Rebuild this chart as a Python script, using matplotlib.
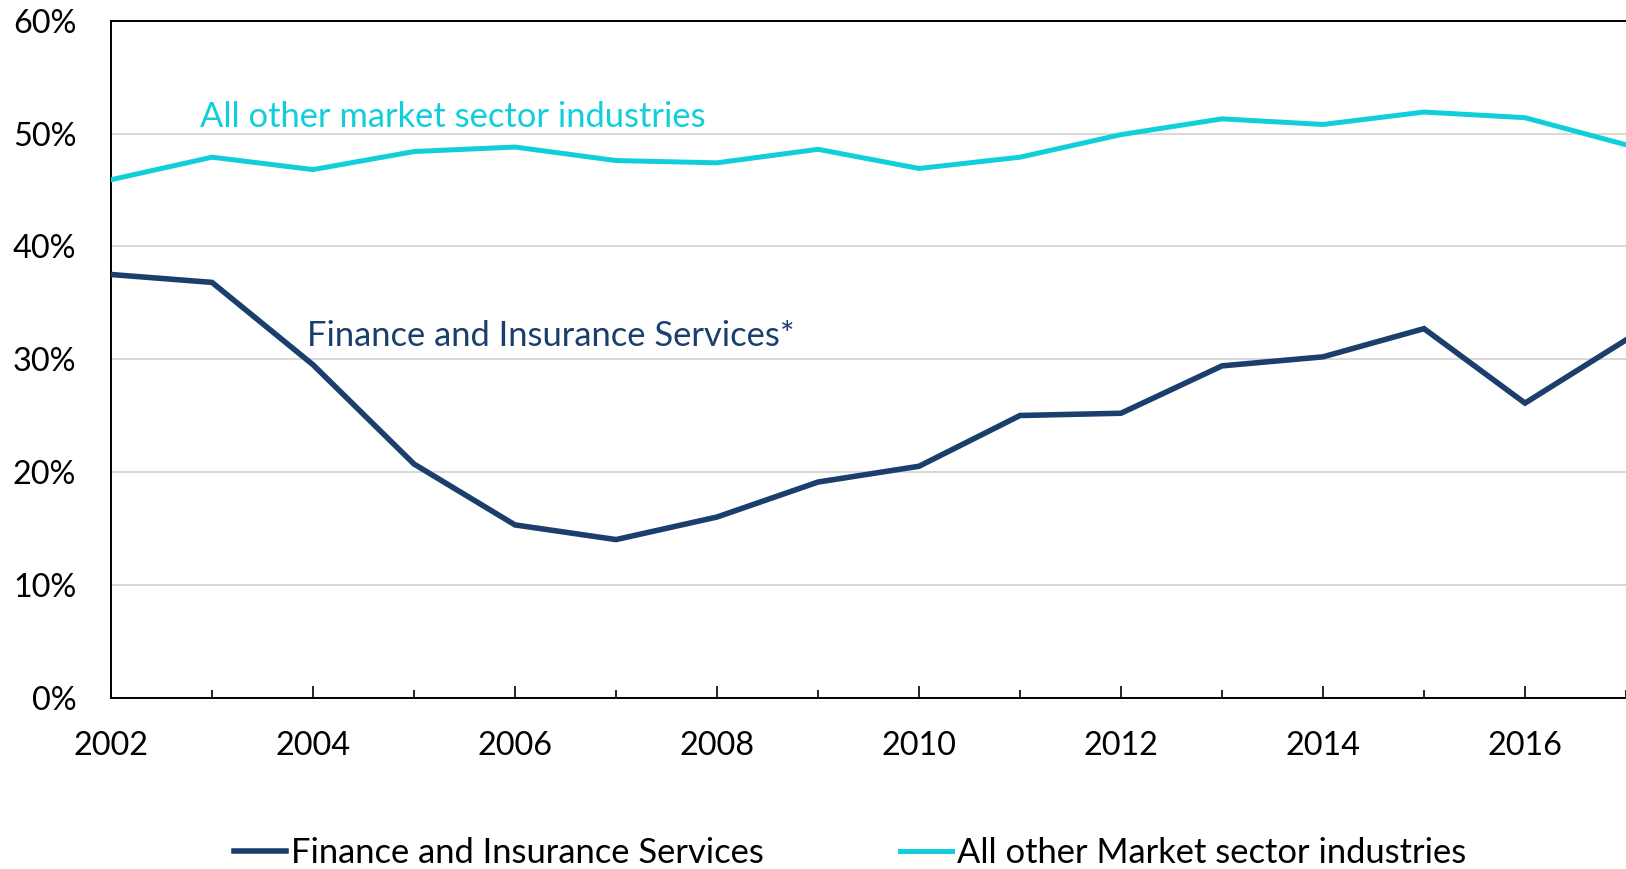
import matplotlib
matplotlib.use("Agg")
import matplotlib.pyplot as plt
from matplotlib.ticker import FuncFormatter, MultipleLocator

plt.rcParams['font.family'] = ['Lato', 'DejaVu Sans']

years = list(range(2002, 2018))
finance = [37.5, 36.8, 29.5, 20.7, 15.3, 14.0, 16.0, 19.1, 20.5, 25.0, 25.2, 29.4, 30.2, 32.7, 26.1, 31.7]
all_other = [45.9, 47.9, 46.8, 48.4, 48.8, 47.6, 47.4, 48.6, 46.9, 47.9, 49.9, 51.3, 50.8, 51.9, 51.4, 49.0]

legend_labels = ["Finance and Insurance Services", "All other Market sector industries"]
series_notes = ["Finance and Insurance Services*", "All other market sector industries"]

NAVY = "#1B3F6C"
CYAN = "#10CFDA"

fig = plt.figure(figsize=(16.26, 8.69), dpi=100)
ax = fig.add_axes([111 / 1626, 1 - 697.5 / 869, 1 - 111 / 1626, (697.5 - 20.7) / 869])

ax.plot(years, finance, color=NAVY, lw=4.0, solid_joinstyle='miter', label=legend_labels[0], zorder=3)
ax.plot(years, all_other, color=CYAN, lw=3.6, solid_joinstyle='miter', label=legend_labels[1], zorder=3)

ax.set_xlim(2002, 2017)
ax.set_ylim(0, 60)
ax.yaxis.set_major_locator(MultipleLocator(10))
ax.yaxis.set_major_formatter(FuncFormatter(lambda v, p: f"{v:.0f}%"))
ax.xaxis.set_major_locator(MultipleLocator(2))
ax.xaxis.set_minor_locator(MultipleLocator(1))

ax.grid(axis='y', color='#D9D9D9', lw=1.5, zorder=0)
ax.set_axisbelow(True)

for side in ['left', 'top', 'bottom']:
    ax.spines[side].set_color('black')
    ax.spines[side].set_linewidth(1.4)
ax.spines['right'].set_visible(False)

ax.tick_params(axis='x', which='major', direction='in', length=9, width=1.2,
               pad=24, labelsize=23.3, colors='black')
ax.tick_params(axis='x', which='minor', direction='in', length=6, width=1.2)
ax.tick_params(axis='y', length=0, pad=25, labelsize=23.3, colors='black')

ax.text(2003.94, 31.2, series_notes[0], color=NAVY, fontsize=24.8, va='baseline', ha='left')
ax.text(2002.88, 50.6, series_notes[1], color=CYAN, fontsize=24.8, va='baseline', ha='left')

fig.legend(loc='center', bbox_to_anchor=(0.523, 1 - 853 / 869), ncol=2, frameon=False,
           fontsize=24.8, handlelength=1.5, handletextpad=0.15, columnspacing=3.95,
           borderaxespad=0, borderpad=0)

fig.savefig("out.png", dpi=100)
